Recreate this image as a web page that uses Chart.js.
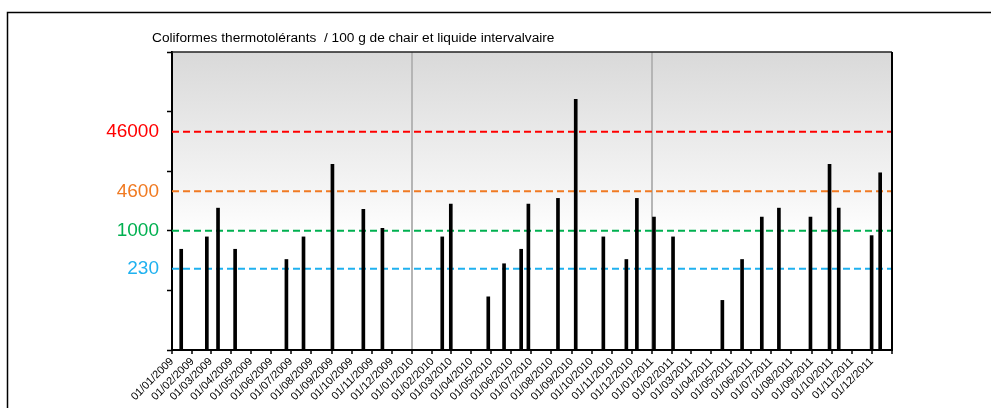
<!DOCTYPE html>
<html lang="fr">
<head>
<meta charset="UTF-8">
<title>Coliformes thermotolérants</title>
<script src="https://cdn.jsdelivr.net/npm/chart.js"></script>
<style>
    body { margin: 0; background: #fff; }
    canvas { display: block; }
</style>
</head>
<body>
<canvas id="chart" width="991" height="408"></canvas>
<script>
// sample dates and counts (per 100 g)
const sampleDates = [
    "2009-01-15", "2009-02-23", "2009-03-12", "2009-04-07", "2009-06-24", "2009-07-20",
    "2009-09-02", "2009-10-19", "2009-11-17",
    "2010-02-16", "2010-03-01", "2010-04-27", "2010-05-21", "2010-06-16", "2010-06-27",
    "2010-08-11", "2010-09-07", "2010-10-19", "2010-11-23", "2010-12-09",
    "2011-01-04", "2011-02-02", "2011-04-18", "2011-05-18", "2011-06-17", "2011-07-13",
    "2011-08-30", "2011-09-28", "2011-10-12", "2011-12-01", "2011-12-14"
];
const sampleValues = [
    490, 790, 2400, 490, 330, 790,
    13000, 2300, 1100,
    790, 2800, 78, 280, 490, 2800,
    3500, 160000, 790, 330, 3500,
    1700, 790, 68, 330, 1700, 2400,
    1700, 13000, 2400, 830, 9400
];

const thresholdValues = [230, 1000, 4600, 46000];
const thresholdColors = ["#1fb1ef", "#00b050", "#f07a22", "#ff0000"];
const decadeTicks = [10, 100, 1000, 10000, 100000, 1000000];

const monthLabels = [
    "01/01/2009", "01/02/2009", "01/03/2009", "01/04/2009", "01/05/2009", "01/06/2009",
    "01/07/2009", "01/08/2009", "01/09/2009", "01/10/2009", "01/11/2009", "01/12/2009",
    "01/01/2010", "01/02/2010", "01/03/2010", "01/04/2010", "01/05/2010", "01/06/2010",
    "01/07/2010", "01/08/2010", "01/09/2010", "01/10/2010", "01/11/2010", "01/12/2010",
    "01/01/2011", "01/02/2011", "01/03/2011", "01/04/2011", "01/05/2011", "01/06/2011",
    "01/07/2011", "01/08/2011", "01/09/2011", "01/10/2011", "01/11/2011", "01/12/2011",
    "01/01/2012"
];
const yearLines = ["01/01/2010", "01/01/2011"];

const titleText = "Coliformes thermotolérants  / 100 g de chair et liquide intervalvaire";

// days since 01/01/2009
const origin = Date.UTC(2009, 0, 1);
const dayOf = (y, m, d) => Math.round((Date.UTC(y, m - 1, d) - origin) / 864e5);
const isoDay = s => { const p = s.split("-").map(Number); return dayOf(p[0], p[1], p[2]); };
const frDay = s => { const p = s.split("/").map(Number); return dayOf(p[2], p[1], p[0]); };

const monthTicks = monthLabels.map(frDay);
const yearTicks = yearLines.map(frDay);
const lastDay = monthTicks[monthTicks.length - 1];

const barData = sampleDates.map((d, i) => ({ x: isoDay(d), y: sampleValues[i] }));

const thresholdSets = thresholdValues.map((v, i) => ({
    type: "line",
    data: [{ x: 0, y: v }, { x: lastDay, y: v }],
    borderColor: thresholdColors[i],
    borderWidth: 2,
    borderDash: [7, 4],
    pointRadius: 0,
    fill: false,
    order: 2
}));

const frame = {
    id: "frame",
    beforeDraw(chart) {
        const { ctx, chartArea: a } = chart;
        ctx.save();
        ctx.fillStyle = "#fff";
        ctx.fillRect(0, 0, chart.width, chart.height);
        ctx.strokeStyle = "#000";
        ctx.lineWidth = 1.5;
        ctx.strokeRect(7.5, 12.5, 1200, 600);
        const g = ctx.createLinearGradient(0, a.top, 0, a.bottom);
        g.addColorStop(0, "#d9d9d9");
        g.addColorStop(0.5, "#f7f7f7");
        g.addColorStop(0.62, "#ffffff");
        ctx.fillStyle = g;
        ctx.fillRect(a.left, a.top, a.right - a.left, a.bottom - a.top);
        ctx.restore();
    },
    afterDraw(chart) {
        const { ctx, chartArea: a } = chart;
        ctx.save();
        ctx.strokeStyle = "#222";
        ctx.lineWidth = 1.5;
        ctx.beginPath();
        ctx.moveTo(a.left, a.top);
        ctx.lineTo(a.right, a.top);
        ctx.stroke();
        ctx.strokeStyle = "#000";
        ctx.lineWidth = 2;
        ctx.beginPath();
        ctx.moveTo(a.right, a.top);
        ctx.lineTo(a.right, a.bottom + 1);
        ctx.stroke();
        ctx.fillStyle = "#000";
        ctx.font = "13.7px 'Liberation Sans', Arial, sans-serif";
        ctx.textBaseline = "middle";
        ctx.fillText(titleText, a.left - 20, a.top - 14);
        ctx.restore();
    }
};

new Chart(document.getElementById("chart"), {
    type: "bar",
    data: {
        datasets: [
            {
                type: "bar",
                data: barData,
                backgroundColor: "#000",
                barThickness: 3,
                order: 1
            },
            ...thresholdSets
        ]
    },
    options: {
        responsive: false,
        animation: false,
        layout: { padding: { left: 0, top: 52, right: 99, bottom: 0 } },
        plugins: { legend: { display: false }, tooltip: { enabled: false }, title: { display: false } },
        scales: {
            x: {
                type: "linear",
                offset: false,
                min: 0,
                max: lastDay,
                afterBuildTicks: s => { s.ticks = monthTicks.map(v => ({ value: v })); },
                afterFit: s => { s.height = 58; },
                ticks: {
                    autoSkip: false,
                    minRotation: 45,
                    maxRotation: 45,
                    padding: 1,
                    color: "#000",
                    font: { family: "'Liberation Sans', Arial, sans-serif", size: 11 },
                    callback: (v, i) => i < monthLabels.length - 1 ? monthLabels[i] : ""
                },
                grid: {
                    offset: false,
                    color: c => c.tick && yearTicks.includes(c.tick.value) ? "#b5b5b5" : "rgba(0,0,0,0)",
                    lineWidth: 2,
                    tickColor: "#000",
                    tickLength: 4,
                    tickWidth: 1.5
                },
                border: { color: "#000", width: 2 }
            },
            y: {
                type: "logarithmic",
                min: 10,
                max: 1000000,
                afterBuildTicks: s => {
                    s.ticks = decadeTicks.concat(thresholdValues.filter(v => !decadeTicks.includes(v)))
                        .sort((a, b) => a - b).map(v => ({ value: v }));
                },
                afterFit: s => { s.width = 172; },
                ticks: {
                    autoSkip: false,
                    padding: 8,
                    font: { family: "'Liberation Sans', Arial, sans-serif", size: 19 },
                    color: c => {
                        const i = thresholdValues.indexOf(c.tick.value);
                        return i >= 0 ? thresholdColors[i] : "#000";
                    },
                    callback: v => thresholdValues.includes(v) ? String(v) : ""
                },
                grid: {
                    drawOnChartArea: false,
                    tickLength: 5,
                    tickWidth: 1.5,
                    tickColor: c => decadeTicks.includes(c.tick.value) ? "#000" : "rgba(0,0,0,0)"
                },
                border: { color: "#000", width: 2 }
            }
        }
    },
    plugins: [frame]
});
</script>
</body>
</html>
